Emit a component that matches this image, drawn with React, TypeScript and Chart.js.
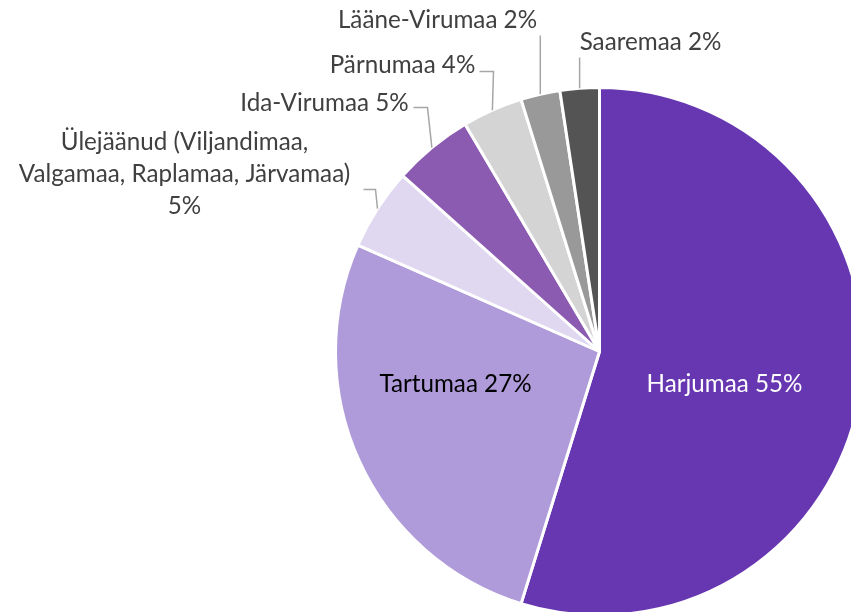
import React, { useEffect, useRef } from "react";
import { Chart, registerables } from "chart.js";

Chart.register(...registerables);

// ---- data ----
const regions = [
  "Harjumaa",
  "Tartumaa",
  "Ülejäänud (Viljandimaa,\nValgamaa, Raplamaa, Järvamaa)",
  "Ida-Virumaa",
  "Pärnumaa",
  "Lääne-Virumaa",
  "Saaremaa",
];
const shares = [54.8, 26.8, 5.0, 4.9, 3.7, 2.4, 2.4];
const sliceColors = ["#6737b1", "#b09bda", "#e0d8f0", "#8b5bb1", "#d4d4d4", "#999999", "#545454"];

// ---- label layout (offsets from pie centre, px) ----
type Layout = {
  dx: number;
  dy: number;
  color: string;
  leader?: number[][];
  vertical?: number; // top y of a vertical leader
};
const labelLayout: Layout[] = [
  { dx: 125, dy: 33, color: "#ffffff" },
  { dx: -144, dy: 33, color: "#000000" },
  { dx: -415, dy: -177, color: "#404040", leader: [[-236, -162], [-224, -162]] },
  { dx: -275, dy: -248, color: "#404040", leader: [[-186, -244], [-172, -244]] },
  { dx: -197, dy: -286, color: "#404040", leader: [[-120, -280], [-106, -280]] },
  { dx: -162, dy: -331, color: "#404040", vertical: -316 },
  { dx: 51, dy: -309, color: "#404040", vertical: -294 },
];

const FONT = "Lato, 'Open Sans', sans-serif";

export default function App() {
  const ref = useRef<HTMLCanvasElement>(null);

  useEffect(() => {
    const canvas = ref.current!;
    const labelPlugin = {
      id: "pieLabels",
      afterDatasetsDraw(chart: any) {
        const ctx = chart.ctx as CanvasRenderingContext2D;
        const meta = chart.getDatasetMeta(0);
        const total = shares.reduce((a, b) => a + b, 0);
        ctx.save();
        ctx.font = `100px ${FONT}`;
        const w = ctx.measureText("Harjumaa 55%").width;
        const size = (100 * 156) / w;
        const lineH = 32;
        ctx.font = `${size}px ${FONT}`;
        ctx.textAlign = "center";
        ctx.textBaseline = "middle";
        meta.data.forEach((arc: any, i: number) => {
          const p = arc.getProps(["x", "y", "startAngle", "endAngle", "outerRadius"], true);
          const mid = (p.startAngle + p.endAngle) / 2;
          const ex = p.x + Math.cos(mid) * p.outerRadius;
          const ey = p.y + Math.sin(mid) * p.outerRadius;
          const pct = Math.round((shares[i] / total) * 100);
          const name = regions[i];
          const text = name.includes("\n") ? `${name}\n${pct}%` : `${name} ${pct}%`;
          const lines = text.split("\n");
          const lay = labelLayout[i];
          ctx.strokeStyle = "#a6a6a6";
          ctx.lineWidth = 1.5;
          if (lay.leader) {
            ctx.beginPath();
            lay.leader.forEach((pt, k) => {
              if (k === 0) ctx.moveTo(p.x + pt[0], p.y + pt[1]);
              else ctx.lineTo(p.x + pt[0], p.y + pt[1]);
            });
            ctx.lineTo(ex, ey);
            ctx.stroke();
          } else if (lay.vertical !== undefined) {
            ctx.beginPath();
            ctx.moveTo(ex, p.y + lay.vertical);
            ctx.lineTo(ex, ey);
            ctx.stroke();
          }
          ctx.fillStyle = lay.color;
          lines.forEach((ln, k) => {
            ctx.fillText(ln, p.x + lay.dx, p.y + lay.dy + (k - (lines.length - 1) / 2) * lineH);
          });
        });
        ctx.restore();
      },
    };

    const chart = new Chart(canvas, {
      type: "pie",
      data: {
        labels: regions.map((r) => r.replace("\n", " ")),
        datasets: [
          {
            data: shares,
            backgroundColor: sliceColors,
            borderColor: "#ffffff",
            borderWidth: 3,
          },
        ],
      },
      options: {
        responsive: false,
        animation: false,
        devicePixelRatio: 1,
        layout: { padding: { left: 334, top: 86, right: 35, bottom: 83 } },
        plugins: {
          legend: { display: false },
          tooltip: { enabled: false },
        },
      },
      plugins: [labelPlugin],
    });
    return () => chart.destroy();
  }, []);

  return (
    <div
      style={{
        position: "fixed",
        left: 0,
        top: 0,
        width: 851,
        height: 612,
        overflow: "hidden",
        background: "#ffffff",
      }}
    >
      <canvas ref={ref} width={900} height={700} style={{ width: 900, height: 700, display: "block" }} />
    </div>
  );
}
